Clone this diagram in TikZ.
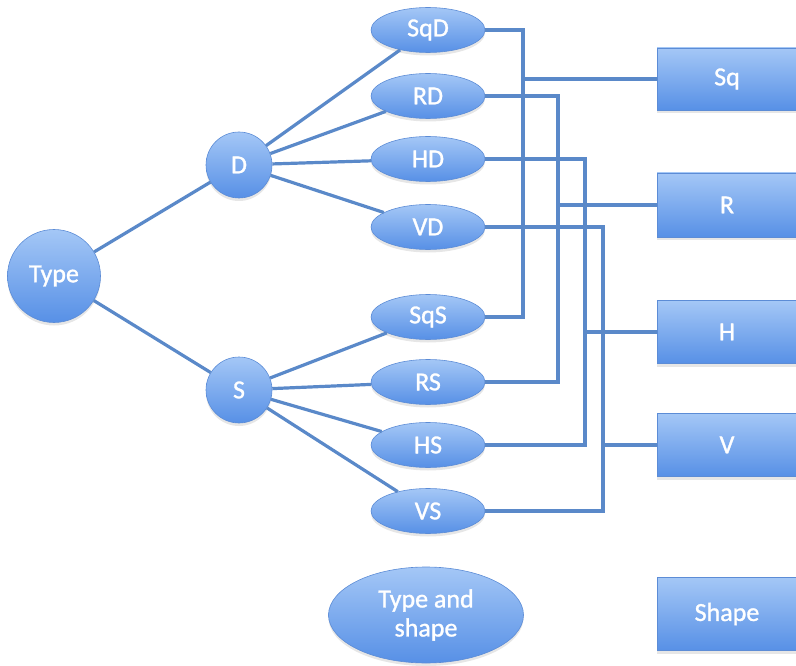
\documentclass[tikz,border=0pt]{standalone}
\usepackage{fontspec}
\setmainfont{Carlito}
\newfontfamily\labelfont{Carlito}[FakeBold=1.2]
\usetikzlibrary{shapes.geometric,shadows}
\definecolor{topblue}{HTML}{A4C7F6}
\definecolor{midblue}{HTML}{74A4EE}
\definecolor{botblue}{HTML}{5790E6}
\definecolor{edgeblue}{HTML}{5C8CD6}
\definecolor{linkblue}{HTML}{5A89C9}
\begin{document}
\begin{tikzpicture}[x=1pt,y=-1pt,
  every node/.style={font=\labelfont\fontsize{26}{29}\selectfont, text=white},
  blob/.style={top color=topblue, middle color=midblue, bottom color=botblue, draw=edgeblue, line width=0.6pt,
    drop shadow={opacity=0.2, shadow xshift=0pt, shadow yshift=-3pt}},
  circ/.style={blob, circle, inner sep=0pt},
  oval/.style={blob, ellipse, minimum width=114, minimum height=45, inner sep=0pt},
  box/.style={blob, rectangle, minimum width=140, minimum height=62, inner sep=0pt},
  link/.style={draw=linkblue, line width=3.2pt}]
\useasboundingbox (0,0) rectangle (796,666);

% circles
\node[circ, minimum size=93] (Type) at (54,276) {Type};
\node[circ, minimum size=66] (D) at (239,165) {D};
\node[circ, minimum size=66] (S) at (239,390) {S};

% ellipses
\node[oval] (SqD) at (428,30) {SqD};
\node[oval] (RD) at (428,96) {RD};
\node[oval] (HD) at (428,159) {HD};
\node[oval] (VD) at (428,227) {VD};
\node[oval] (SqS) at (428,317) {SqS};
\node[oval] (RS) at (428,382) {RS};
\node[oval] (HS) at (428,445) {HS};
\node[oval] (VS) at (428,511) {VS};

% boxes
\node[box] (Sq) at (727,79) {Sq};
\node[box, minimum height=64] (R) at (727,205) {R};
\node[box, minimum height=63] (H) at (727,332) {H};
\node[box, minimum height=63] (V) at (727,445) {V};

% legend
\node[oval, minimum width=195, minimum height=96, align=center] (TS) at (426,615) {Type and\\shape};
\node[box, minimum height=73] (Shape) at (727,614) {Shape};

% tree links
\draw[link] (Type) -- (D);
\draw[link] (Type) -- (S);
\foreach \e in {SqD,RD,HD,VD} \draw[link] (D) -- (\e);
\foreach \e in {SqS,RS,HS,VS} \draw[link] (S) -- (\e);

% elbow links
\coordinate (c1) at (523,0);
\coordinate (c2) at (558,0);
\coordinate (c3) at (585,0);
\coordinate (c4) at (603,0);
\draw[link] (SqD.east) -| (c1 |- SqS.east) -- (SqS.east);
\draw[link] (RD.east) -| (c2 |- RS.east) -- (RS.east);
\draw[link] (HD.east) -| (c3 |- HS.east) -- (HS.east);
\draw[link] (VD.east) -| (c4 |- VS.east) -- (VS.east);
\draw[link] (Sq.west) -- (Sq.west -| c1);
\draw[link] (R.west) -- (R.west -| c2);
\draw[link] (H.west) -- (H.west -| c3);
\draw[link] (V.west) -- (V.west -| c4);
\end{tikzpicture}
\end{document}
